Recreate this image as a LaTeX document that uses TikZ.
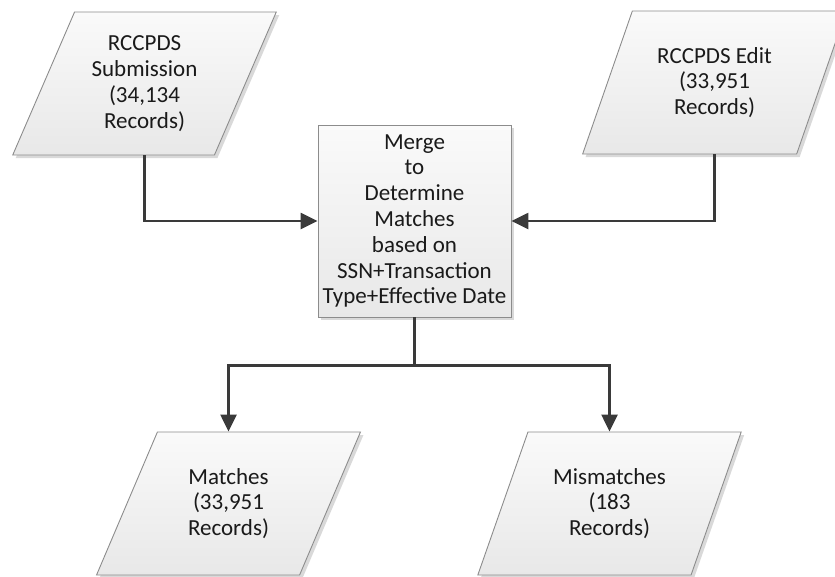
\documentclass[tikz,border=0pt]{standalone}
\usepackage{fontspec}
\setmainfont{Carlito}
\usetikzlibrary{shapes.geometric,shadows,arrows.meta}

\definecolor{edgegray}{HTML}{8C8C8C}
\definecolor{linegray}{HTML}{3A3A3A}
\definecolor{textgray}{HTML}{1A1A1A}

\tikzset{
  boxfill/.style={top color=white!98!black, bottom color=white!91!black,
    draw=edgegray, line width=0.9pt,
    drop shadow={shadow xshift=3pt, shadow yshift=-3pt, opacity=0.15, fill=black}},
  boxtext/.style={text=textgray, align=center,
    font=\fontsize{23}{25.8}\selectfont},
  datanode/.style={boxfill, boxtext, trapezium,
    trapezium left angle=63.9, trapezium right angle=116.1,
    trapezium stretches=true, minimum width=264pt, minimum height=143pt,
    inner sep=0pt},
  procnode/.style={boxfill, boxtext, rectangle,
    minimum width=193pt, minimum height=192pt, inner sep=0pt},
  wire/.style={draw=linegray, line width=2.5pt},
  flow/.style={wire, -{Triangle[length=17pt,width=16pt]}},
}

\begin{document}
\begin{tikzpicture}[x=1pt, y=-1pt]
  \useasboundingbox (0,0) rectangle (835,576);
  \clip (0,0) rectangle (835,576);

  % input data sets
  \node[datanode] (sub)  at (144.5, 83.5) {RCCPDS\\Submission\\(34,134\\Records)};
  \node[datanode] (edit) at (714.5, 82.5) {RCCPDS Edit\\(33,951\\Records)};

  % merge step
  \node[procnode] (merge) at (414.5, 221) {Merge\\to\\Determine\\Matches\\based on\\SSN+Transaction\\Type+Effective Date};

  % outputs
  \node[datanode] (match) at (228.5, 503.5) {Matches\\(33,951\\Records)};
  \node[datanode] (mis)   at (609.5, 503.5) {Mismatches\\(183\\Records)};

  % flow lines
  \draw[flow] (sub.south) |- (merge.west);
  \draw[flow] (edit.south) |- (merge.east);
  \coordinate (split) at ([yshift=-48pt]merge.south);
  \draw[wire] (merge.south) -- (split);
  \draw[flow] (split) -| (match.north);
  \draw[flow] (split) -| (mis.north);
\end{tikzpicture}
\end{document}
